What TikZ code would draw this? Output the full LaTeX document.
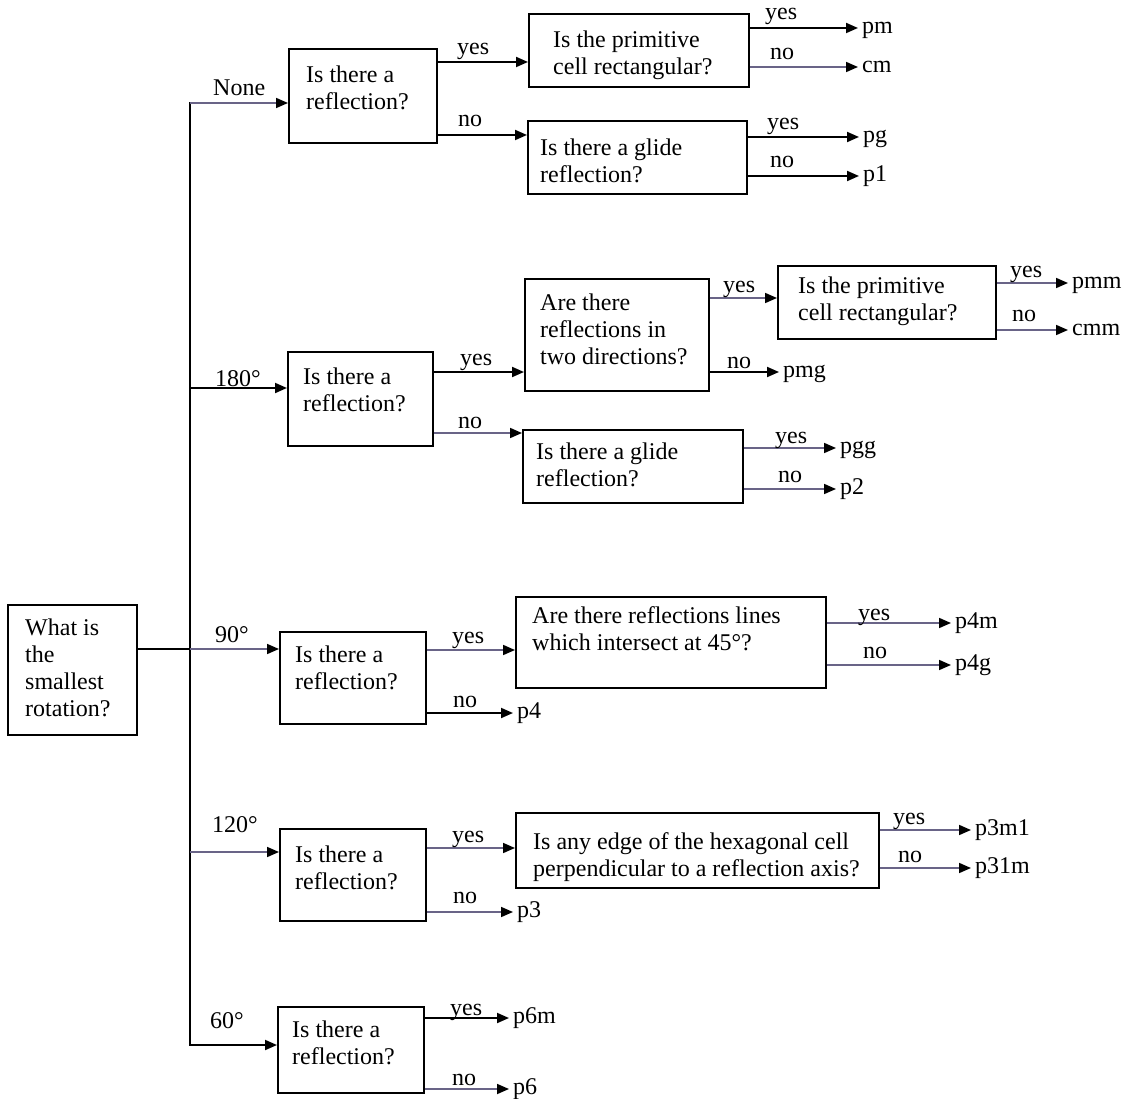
\documentclass[tikz,border=0pt]{standalone}
\usepackage{fontspec}
\setmainfont{Liberation Serif}
\usetikzlibrary{arrows.meta}
\definecolor{lg}{RGB}{105,100,135}
\begin{document}
\begin{tikzpicture}[x=1pt,y=-1pt,
  box/.style={draw=black,line width=1.9pt,inner sep=0pt},
  txt/.style={font=\fontsize{24}{27}\selectfont,align=left,inner sep=0pt,anchor=north west},
  lab/.style={font=\fontsize{24}{27}\selectfont,inner sep=0pt,anchor=base west},
  outn/.style={font=\fontsize{24}{27}\selectfont,inner xsep=4pt,inner ysep=0pt,text height=11pt,text depth=0pt,anchor=west},
  ln/.style={line width=1.9pt,draw=black,line cap=rect},
  arr/.style={line width=1.9pt,draw=black,-{Triangle[length=12pt,width=10pt,color=black]}},
  arrg/.style={line width=1.7pt,draw=lg,-{Triangle[length=12pt,width=10pt,color=black]}},
]
\newcommand\mybox[5]{\node[box,anchor=north west,minimum width={(#4-#2)*1pt},minimum height={(#5-#3)*1pt}] (#1) at (#2,#3) {};}
\newcommand\mytxt[4]{\node[txt] (#1) at (#2,#3-16.5) {#4};}

\fill[white] (0,0) rectangle (1130,1099);
\useasboundingbox (0,0) rectangle (1130,1099);

% boxes
\mybox{root}{7}{604}{136}{734}
\mybox{R1}{288}{48}{436}{142}
\mybox{P1}{528}{13}{748}{86}
\mybox{G1}{527}{120}{746}{193}
\mybox{R2}{287}{351}{432}{445}
\mybox{TD}{524}{278}{708}{390}
\mybox{P2}{777}{265}{995}{338}
\mybox{G2}{522}{429}{742}{502}
\mybox{R3}{279}{631}{425}{723}
\mybox{Q}{515}{596}{825}{687}
\mybox{R4}{279}{828}{425}{920}
\mybox{Hx}{515}{812}{878}{887}
\mybox{R5}{277}{1006}{423}{1092}

% box texts
\mytxt{roott}{25}{635}{\fontsize{24}{28.5}\selectfont What is\\the\\smallest\\rotation?}
\mytxt{R1t}{306}{82}{Is there a\\reflection?}
\mytxt{P1t}{553}{47}{Is the primitive\\cell rectangular?}
\mytxt{G1t}{540}{155}{Is there a glide\\reflection?}
\mytxt{R2t}{303}{384}{Is there a\\reflection?}
\mytxt{TDt}{540}{310}{\fontsize{24}{28.5}\selectfont Are there\\reflections in\\two directions?}
\mytxt{P2t}{798}{293}{Is the primitive\\cell rectangular?}
\mytxt{G2t}{536}{459}{Is there a glide\\reflection?}
\mytxt{R3t}{295}{662}{Is there a\\reflection?}
\mytxt{Qt}{532}{623}{\fontsize{24}{25.5}\selectfont Are there reflections lines\\which intersect at 45°?}
\mytxt{R4t}{295}{862}{Is there a\\reflection?}
\mytxt{Hxt}{533}{849}{\fontsize{24}{26}\selectfont Is any edge of the hexagonal cell\\perpendicular to a reflection axis?}
\mytxt{R5t}{292}{1037}{Is there a\\reflection?}

% trunk coordinates
\coordinate (tN) at (190,103);
\coordinate (t180) at (190,388);
\coordinate (t90) at (190,649);
\coordinate (t120) at (190,852);
\coordinate (t60) at (190,1045);

\draw[ln] (tN) -- (t60);
\draw[ln] (root.east |- t90) -- (t90);

% branches
\draw[arrg] (tN) -- (R1.west |- tN);
\draw[arr] (t180) -- (R2.west |- t180);
\draw[arrg] (t90) -- (R3.west |- t90);
\draw[arrg] (t120) -- (R4.west |- t120);
\draw[arr] (t60) -- (R5.west |- t60);

\node[lab] (lN) at (213,96) {None};
\node[lab] (l180) at (215,386) {180°};
\node[lab] (l90) at (215,642) {90°};
\node[lab] (l120) at (212,832) {120°};
\node[lab] (l60) at (210,1028) {60°};

% box to box arrows
\draw[arr] (R1.east |- 0,62) -- (P1.west |- 0,62);
\draw[arr] (R1.east |- 0,135) -- (G1.west |- 0,135);
\draw[arr] (R2.east |- 0,372) -- (TD.west |- 0,372);
\draw[arrg] (R2.east |- 0,433) -- (G2.west |- 0,433);
\draw[arrg] (TD.east |- 0,298) -- (P2.west |- 0,298);
\draw[arrg] (R3.east |- 0,650) -- (Q.west |- 0,650);
\draw[arrg] (R4.east |- 0,848) -- (Hx.west |- 0,848);

% outputs
\node[outn] (pm) at (858,28) {pm};
\node[outn] (cm) at (858,67) {cm};
\node[outn] (pg) at (859,137) {pg};
\node[outn] (p1) at (859,176) {p1};
\node[outn] (pmm) at (1068,283) {pmm};
\node[outn] (cmm) at (1068,330) {cmm};
\node[outn] (pmg) at (779,372) {pmg};
\node[outn] (pgg) at (836,448) {pgg};
\node[outn] (p2) at (836,489) {p2};
\node[outn] (p4m) at (951,623) {p4m};
\node[outn] (p4g) at (951,665) {p4g};
\node[outn] (p4) at (513,713) {p4};
\node[outn] (p3m1) at (971,830) {p3m1};
\node[outn] (p31m) at (971,868) {p31m};
\node[outn] (p3) at (513,912) {p3};
\node[outn] (p6m) at (509,1018) {p6m};
\node[outn] (p6) at (509,1089) {p6};

\draw[arr] (P1.east |- pm.west) -- (pm.west);
\draw[arrg] (P1.east |- cm.west) -- (cm.west);
\draw[arr] (G1.east |- pg.west) -- (pg.west);
\draw[arr] (G1.east |- p1.west) -- (p1.west);
\draw[arrg] (P2.east |- pmm.west) -- (pmm.west);
\draw[arrg] (P2.east |- cmm.west) -- (cmm.west);
\draw[arr] (TD.east |- pmg.west) -- (pmg.west);
\draw[arrg] (G2.east |- pgg.west) -- (pgg.west);
\draw[arrg] (G2.east |- p2.west) -- (p2.west);
\draw[arrg] (Q.east |- p4m.west) -- (p4m.west);
\draw[arrg] (Q.east |- p4g.west) -- (p4g.west);
\draw[arr] (R3.east |- p4.west) -- (p4.west);
\draw[arrg] (Hx.east |- p3m1.west) -- (p3m1.west);
\draw[arrg] (Hx.east |- p31m.west) -- (p31m.west);
\draw[arrg] (R4.east |- p3.west) -- (p3.west);
\draw[arr] (R5.east |- p6m.west) -- (p6m.west);
\draw[arrg] (R5.east |- p6.west) -- (p6.west);

% yes/no labels
\node[lab] (y1) at (457,55) {yes};
\node[lab] (n1) at (458,127) {no};
\node[lab] (y2) at (765,20) {yes};
\node[lab] (n2) at (770,60) {no};
\node[lab] (y3) at (767,130) {yes};
\node[lab] (n3) at (770,168) {no};
\node[lab] (y4) at (460,366) {yes};
\node[lab] (n4) at (458,428) {no};
\node[lab] (y5) at (723,293) {yes};
\node[lab] (n5) at (727,368) {no};
\node[lab] (y6) at (1010,278) {yes};
\node[lab] (n6) at (1012,322) {no};
\node[lab] (y7) at (775,443) {yes};
\node[lab] (n7) at (778,482) {no};
\node[lab] (y8) at (452,643) {yes};
\node[lab] (n8) at (453,707) {no};
\node[lab] (y9) at (858,620) {yes};
\node[lab] (n9) at (863,658) {no};
\node[lab] (y10) at (452,842) {yes};
\node[lab] (n10) at (453,903) {no};
\node[lab] (y11) at (893,824) {yes};
\node[lab] (n11) at (898,862) {no};
\node[lab] (y12) at (450,1015) {yes};
\node[lab] (n12) at (452,1085) {no};
\end{tikzpicture}
\end{document}
